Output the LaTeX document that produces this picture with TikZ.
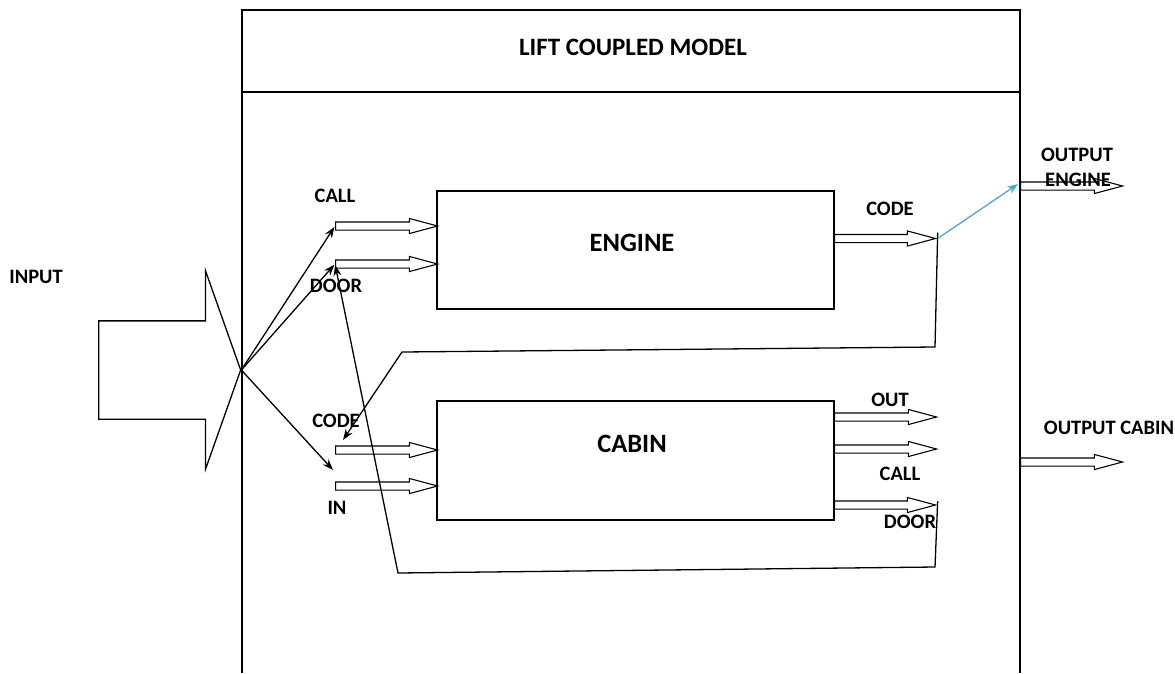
\documentclass[tikz,border=0pt]{standalone}
\usepackage{fontspec}
\setmainfont{Carlito}
\usetikzlibrary{shapes.arrows,arrows.meta}
\definecolor{linkblue}{RGB}{75,172,198}
\tikzset{
  every picture/.style={x=1pt,y=-1pt},
  thin line/.style={line width=1.3pt,black},
  box/.style={draw,line width=1.3pt,inner sep=0pt,fill=white},
  port/.style={single arrow,draw,line width=1.1pt,fill=white,inner xsep=0pt,
    inner ysep=3.5pt,minimum width=0pt,single arrow head extend=3.5pt,
    single arrow tip angle=30,anchor=tail},
  lbl/.style={font=\bfseries\fontsize{20.5}{20.5}\selectfont,inner sep=0pt},
  tip/.style={-{Stealth[length=11pt,width=8pt]}},
}
\begin{document}
\begin{tikzpicture}
\useasboundingbox (0,0) rectangle (1175,673);

% coupled model frame, open at the bottom
\draw[line width=1.4pt] (242,673) -- (242,10) -- (1020,10) -- (1020,673);
\draw[line width=1.4pt] (242,92) -- (1020,92);
\node[font=\bfseries\fontsize{25}{25}\selectfont] (title) at (633,47) {LIFT COUPLED MODEL};

% atomic models
\node[box,minimum width=397pt,minimum height=118pt] (engine) at (635.5,250) {};
\node[font=\bfseries\fontsize{26.5}{26.5}\selectfont] (engtxt) at (632,243) {ENGINE};
\node[box,minimum width=397pt,minimum height=119pt] (cabin) at (635.5,460.5) {};
\node[font=\bfseries\fontsize{26.5}{26.5}\selectfont] (cabtxt) at (632,444) {CABIN};

% external input
\node[single arrow,draw,line width=1.3pt,inner xsep=0pt,inner ysep=48.5pt,
  minimum width=0pt,single arrow head extend=50pt,single arrow tip angle=141,
  minimum height=142pt,anchor=tail] (input) at (98,370) {};
\node[lbl] (inputlbl) at (36,277) {INPUT};

% ports
\node[port,minimum height=102pt] (callIn) at (335,226) {};
\node[port,minimum height=102pt] (doorIn) at (335,264) {};
\node[port,minimum height=102pt] (codeIn) at (335,450) {};
\node[port,minimum height=102pt] (inIn) at (335,486) {};
\node[port,minimum height=101pt] (codeOut) at (834,238.5) {};
\node[port,minimum height=102pt] (outOut) at (834,417) {};
\node[port,minimum height=102pt] (callOut) at (834,449) {};
\node[port,minimum height=101pt] (doorOut) at (834,505) {};
\node[port,minimum height=102pt] (outEngine) at (1020,186) {};
\node[port,minimum height=102pt] (outCabin) at (1020,462) {};

% port labels
\node[lbl] (l1) at (335,196) {CALL};
\node[lbl] (l2) at (336,286) {DOOR};
\node[lbl] (l3) at (336,421) {CODE};
\node[lbl] (l4) at (337,508) {IN};
\node[lbl] (l5) at (890,209) {CODE};
\node[lbl] (l6) at (890,400) {OUT};
\node[lbl] (l7) at (900,474) {CALL};
\node[lbl] (l8) at (910,522) {DOOR};
\node[lbl] (l9) at (1077,155) {OUTPUT};
\node[lbl] (l10) at (1078,180) {ENGINE};
\node[lbl] (l11) at (1109,428) {OUTPUT CABIN};

% couplings
\coordinate (inEnd) at (333,470);
\coordinate (e1) at (935,347);
\coordinate (e2) at (402,352);
\coordinate (codeEnd) at (343,440);
\coordinate (c1) at (935,567);
\coordinate (c2) at (398,573);
\coordinate (oeEnd) at (1018,184);

\draw[thin line,tip,shorten >=1pt] (input.tip) -- (callIn.tail);
\draw[thin line,tip,shorten >=1pt] (input.tip) -- (doorIn.tail);
\draw[thin line,tip] (input.tip) -- (inEnd);
\draw[thin line,tip] ([yshift=6pt]codeOut.tip) -- (e1) -- (e2) -- (codeEnd);
\draw[thin line,tip,shorten >=1pt] ([yshift=4pt]doorOut.tip) -- (c1) -- (c2) -- (doorIn.tail);
\draw[line width=1.3pt,linkblue,-{Stealth[length=11pt,width=8pt]}] (codeOut.tip) -- (oeEnd);
\end{tikzpicture}
\end{document}
